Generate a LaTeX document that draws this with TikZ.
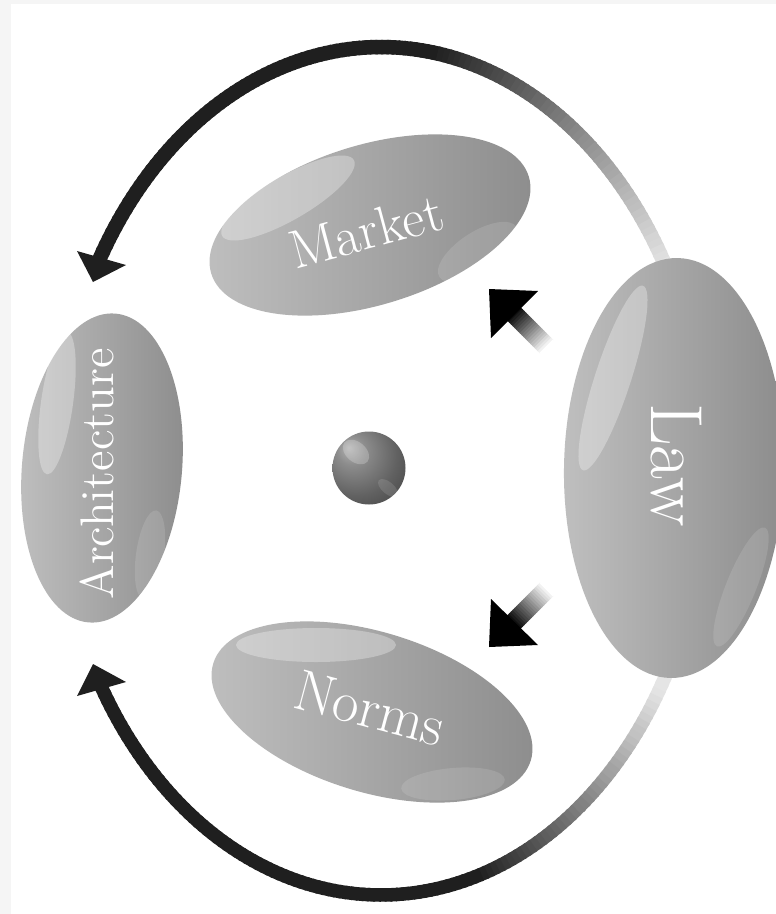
\documentclass[tikz,border=0pt]{standalone}
\usepackage{fontspec}
\usetikzlibrary{shapes.geometric,calc}
\pgfdeclareradialshading{hubshade}{\pgfpoint{-14bp}{14bp}}{color(0bp)=(black!30); color(10bp)=(black!45); color(28bp)=(black!62); color(50bp)=(black!78); color(75bp)=(black!85)}
\begin{document}
\begin{tikzpicture}[x=0.1mm,y=-0.1mm,
  pill/.style={ellipse, inner sep=0pt, outer sep=0pt, shade, left color=black!25, right color=black!45},
  pilltext/.style={text=white, inner sep=0pt},
  gloss/.style={white, fill opacity=0.3},
  softgloss/.style={white, fill opacity=0.12},
  headtip/.style={fill=black!88},
]
\useasboundingbox (0,0) rectangle (776,914);
\fill[black!4] (0,0) rectangle (776,914);
\fill[white] (11,4) rectangle (776,914);

% big arcs (drawn first, ends hidden under Law)
\foreach \t in {210,...,331}{
  \pgfmathtruncatemacro\k{min(88,max(10,88-78*(\t-279)/52))}
  \draw[line width=1.45mm, black!\k] ({381+325*cos(\t)},{471+424*sin(\t)}) -- ({381+325*cos(\t+1.4)},{471+424*sin(\t+1.4)});
}
\foreach \t in {28,...,150}{
  \pgfmathtruncatemacro\k{min(88,max(10,10+78*(\t-30)/42))}
  \draw[line width=1.35mm, black!\k] ({381+325*cos(\t)},{471+424*sin(\t)}) -- ({381+325*cos(\t+1.4)},{471+424*sin(\t+1.4)});
}
\coordinate (ta) at (93,282);
\coordinate (tb) at (77,251);
\coordinate (tc) at (126,265);
\fill[headtip] (ta) -- (tb) -- (tc) -- cycle;
\coordinate (ba) at (93,664);
\coordinate (bb) at (77,696);
\coordinate (bc) at (126,682);
\fill[headtip] (ba) -- (bb) -- (bc) -- cycle;

% ellipses
\node[pill, minimum width=16mm, minimum height=31mm, rotate=-5] (arch) at (102,468) {};
\node[pill, minimum width=33.2mm, minimum height=16mm, rotate=17] (market) at (370,225) {};
\node[pill, minimum width=33.2mm, minimum height=16mm, rotate=-17] (norms) at (372,712) {};
\node[pill, minimum width=22mm, minimum height=42mm, rotate=-1] (law) at (674,468) {};
\node[circle, minimum size=7.3mm, inner sep=0pt, shade, shading=hubshade] (hub) at (369,468) {};

% gloss highlights
\fill[gloss, rotate around={30:(288,198)}] (288,198) ellipse [x radius=7.6mm, y radius=2.2mm];
\fill[softgloss, rotate around={33:(478,252)}] (478,252) ellipse [x radius=4.6mm, y radius=2mm];
\fill[gloss] (316,645) ellipse [x radius=8mm, y radius=1.7mm];
\fill[softgloss, rotate around={5:(453,784)}] (453,784) ellipse [x radius=5.2mm, y radius=1.6mm];
\fill[gloss, rotate around={-8:(57,403)}] (57,403) ellipse [x radius=1.6mm, y radius=7.2mm];
\fill[softgloss, rotate around={-8:(150,555)}] (150,555) ellipse [x radius=1.4mm, y radius=4.5mm];
\fill[gloss, rotate around={-18:(613,378)}] (613,378) ellipse [x radius=1.8mm, y radius=9.7mm];
\fill[softgloss, rotate around={-22:(741,587)}] (741,587) ellipse [x radius=1.5mm, y radius=6.4mm];
\fill[white, fill opacity=0.22, rotate around={-40:(356,452)}] (356,452) ellipse [x radius=1.5mm, y radius=1mm];
\fill[white, fill opacity=0.12, rotate around={-40:(388,488)}] (388,488) ellipse [x radius=1.2mm, y radius=0.6mm];

% small diagonal arrows
\coordinate (ua) at (489,289);
\coordinate (ub) at (538,291);
\coordinate (uc) at (491,338);
\coordinate (us) at (512,312);
\coordinate (ue) at (548,348);
\foreach \i in {0,...,19}{
  \pgfmathtruncatemacro\k{100-100*\i/19}
  \draw[line width=1.9mm, black!\k] ($(us)!\i/20!(ue)$) -- ($(us)!{(\i+1.4)/20}!(ue)$);
}
\fill[black] (ua) -- (ub) -- (uc) -- cycle;
\coordinate (la) at (489,647);
\coordinate (lb) at (538,645);
\coordinate (lc) at (491,599);
\coordinate (ls) at (512,624);
\coordinate (le) at (548,588);
\foreach \i in {0,...,19}{
  \pgfmathtruncatemacro\k{100-100*\i/19}
  \draw[line width=1.9mm, black!\k] ($(ls)!\i/20!(le)$) -- ($(ls)!{(\i+1.4)/20}!(le)$);
}
\fill[black] (la) -- (lb) -- (lc) -- cycle;

% labels
\node[pilltext, rotate=90, font=\fontsize{13.4}{13.4}\selectfont\addfontfeatures{FakeBold=0.6}] (archlabel) at (97,474) {Architecture};
\node[pilltext, rotate=15, font=\fontsize{15.5}{15.5}\selectfont\addfontfeatures{FakeBold=0.6}] (marketlabel) at (366,231) {Market};
\node[pilltext, rotate=-15, font=\fontsize{16.5}{16.5}\selectfont\addfontfeatures{FakeBold=0.6}] (normslabel) at (370,708) {Norms};
\node[pilltext, rotate=-90, font=\fontsize{21}{21}\selectfont\addfontfeatures{FakeBold=0.6}] (lawlabel) at (676,465) {Law};
\end{tikzpicture}
\end{document}
